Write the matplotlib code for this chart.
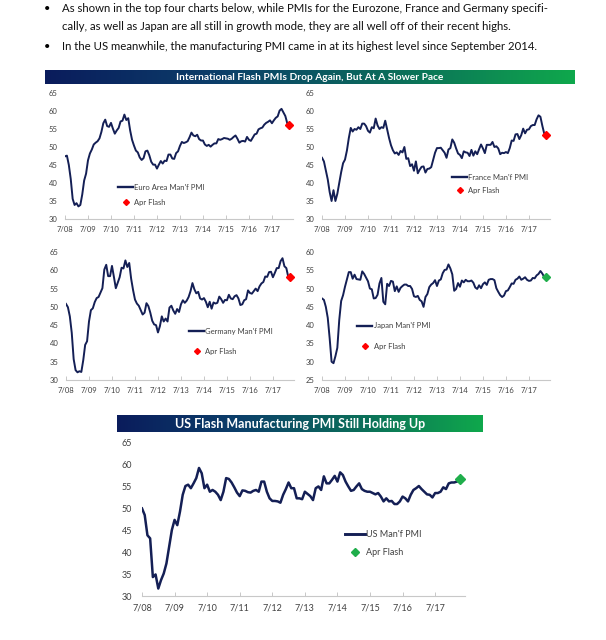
import numpy as np
import matplotlib.pyplot as plt
from matplotlib.lines import Line2D
from matplotlib.colors import LinearSegmentedColormap

plt.rcParams['font.family'] = ['Lato', 'DejaVu Sans']

W, H = 606, 640
NAVY = "#141f55"
RED = "#ff0000"
GREEN = "#1fae4b"
TICK_GREY = "#404040"

# x axis: months since Jul 2008 (monthly data Jul 2008 - Mar 2018, flash = Apr 2018)
tick_months = [0, 12, 24, 36, 48, 60, 72, 84, 96, 108]
tick_labels = ["7/08", "7/09", "7/10", "7/11", "7/12", "7/13", "7/14", "7/15", "7/16", "7/17"]
flash_month = 117

euro_pmi = [
    47.4, 47.6, 45.0, 41.1, 35.6, 33.9,
    34.4, 33.5, 33.9, 36.8, 40.7, 42.6, 46.3, 48.2, 49.3, 50.7, 51.2, 51.6,
    52.4, 54.2, 56.6, 57.6, 55.8, 55.6, 56.7, 55.1, 53.7, 54.6, 55.3, 57.1,
    57.3, 59.0, 57.5, 58.0, 54.6, 52.0, 50.4, 49.0, 48.5, 47.1, 46.4, 46.9,
    48.8, 49.0, 47.7, 45.9, 45.1, 45.1, 44.0, 45.1, 46.1, 45.4, 46.2, 46.1,
    47.9, 47.9, 46.8, 46.7, 48.3, 48.8, 50.3, 51.4, 51.1, 51.3, 51.6, 52.7,
    54.0, 53.2, 53.0, 53.4, 52.2, 51.8, 51.8, 50.7, 50.3, 50.6, 50.1, 50.6,
    51.0, 51.0, 52.2, 52.0, 52.2, 52.5, 52.4, 52.3, 52.0, 52.3, 52.8, 53.2,
    52.3, 51.2, 51.6, 51.7, 51.5, 52.8, 52.0, 51.7, 52.6, 53.5, 53.7, 54.9,
    55.2, 55.4, 56.2, 56.7, 57.0, 57.4, 56.6, 57.4, 58.1, 58.5, 60.1, 60.6,
    59.6, 58.6, 56.6,
]
euro_flash = 56.0

france_pmi = [
    47.0, 46.0, 43.5, 41.0, 37.5, 35.0,
    38.0, 35.0, 37.0, 40.0, 43.0, 45.5, 46.5, 49.0, 52.5, 55.3, 54.3, 55.0,
    54.8, 55.5, 55.0, 56.5, 56.5, 55.8, 54.5, 54.0, 55.5, 55.2, 57.9, 56.0,
    55.0, 55.5, 55.3, 57.3, 54.9, 52.5, 50.5, 49.1, 48.2, 48.5, 47.8, 48.9,
    48.5, 50.0, 46.7, 46.9, 44.7, 45.2, 43.4, 46.0, 42.7, 43.7, 44.5, 44.6,
    42.9, 43.9, 44.0, 44.4, 46.4, 48.4, 49.7, 49.7, 49.8, 49.1, 48.4, 47.0,
    49.3, 49.7, 52.1, 51.2, 49.6, 48.2, 47.8, 46.9, 48.8, 48.5, 48.4, 47.5,
    49.2, 47.6, 48.8, 48.0, 49.4, 50.7, 49.6, 48.3, 50.6, 50.6, 50.6, 51.4,
    50.0, 50.2, 49.6, 48.0, 48.4, 48.3, 48.6, 48.3, 49.7, 51.8, 51.7, 53.5,
    53.6, 52.2, 53.3, 55.1, 53.8, 54.8, 54.9, 55.8, 56.1, 56.1, 57.7, 58.8,
    58.4, 55.9, 53.7,
]
france_flash = 53.4

germany_pmi = [
    50.8, 49.9, 47.4, 42.9, 35.7, 32.7,
    32.1, 32.4, 32.2, 35.4, 39.6, 40.6, 46.0, 49.1, 49.6, 51.3, 52.4, 52.7,
    53.9, 55.1, 60.2, 61.5, 58.4, 58.4, 61.2, 58.2, 55.1, 56.6, 58.1, 60.7,
    60.5, 62.7, 60.9, 62.0, 57.7, 54.6, 52.0, 50.9, 50.3, 49.1, 47.9, 48.4,
    51.0, 50.2, 48.4, 46.2, 45.2, 45.0, 43.0, 44.7, 47.4, 46.0, 46.8, 46.0,
    49.8, 50.3, 49.0, 48.1, 49.4, 48.6, 50.7, 51.8, 51.1, 51.7, 52.7, 54.3,
    56.5, 54.8, 53.7, 54.1, 52.3, 52.0, 52.4, 51.4, 49.9, 51.4, 49.5, 51.2,
    50.9, 51.1, 52.8, 52.1, 51.1, 51.9, 51.8, 53.3, 52.3, 52.1, 52.9, 53.2,
    52.3, 50.5, 50.7, 51.8, 52.1, 54.5, 53.8, 53.6, 54.3, 55.0, 54.3, 55.6,
    56.4, 56.8, 58.3, 58.2, 59.5, 59.6, 58.1, 59.3, 60.6, 60.6, 62.5, 63.3,
    61.1, 60.6, 58.2,
]
germany_flash = 58.1

japan_pmi = [
    47.3, 46.9, 45.0, 42.0, 36.4, 30.0,
    29.6, 31.5, 33.8, 41.4, 46.6, 48.2, 50.5, 52.5, 54.5, 54.5, 52.7, 53.8,
    52.6, 52.5, 52.4, 54.7, 54.0, 53.0, 52.0, 50.0, 49.8, 47.3, 47.4, 48.3,
    51.4, 52.9, 46.4, 45.7, 51.3, 50.7, 52.1, 51.9, 49.3, 50.6, 49.1, 50.2,
    50.7, 51.1, 51.1, 50.7, 50.7, 49.9, 47.9, 47.7, 48.0, 46.9, 46.5, 45.0,
    47.7, 48.5, 50.4, 51.1, 51.5, 52.3, 50.7, 52.2, 52.5, 54.2, 55.1, 55.2,
    56.6, 55.5, 53.9, 49.4, 49.9, 51.5, 50.5, 52.2, 51.7, 52.4, 52.0, 52.0,
    52.2, 51.6, 50.3, 49.9, 50.9, 50.1, 51.2, 51.7, 51.0, 52.4, 52.6, 52.6,
    52.3, 50.1, 49.1, 48.2, 47.7, 48.1, 49.3, 49.5, 50.4, 51.4, 51.3, 52.4,
    52.7, 53.3, 52.4, 52.7, 53.1, 52.4, 52.1, 52.2, 52.9, 52.8, 53.6, 54.0,
    54.8, 54.1, 53.1,
]
japan_flash = 53.3

us_pmi = [
    49.9, 48.4, 43.8, 43.1, 34.3, 34.9,
    31.7, 33.6, 35.1, 37.4, 41.2, 45.0, 47.3, 46.1, 49.2, 53.0, 55.0, 55.3,
    54.5, 55.6, 56.8, 59.1, 57.9, 54.5, 55.3, 53.7, 54.1, 53.7, 53.0, 51.8,
    53.7, 56.8, 56.6, 55.8, 54.7, 53.5, 52.7, 54.0, 53.9, 53.6, 53.5, 53.9,
    54.1, 53.7, 56.0, 56.0, 53.7, 52.2, 51.6, 51.6, 51.5, 51.2, 53.0, 54.3,
    55.8, 54.5, 54.5, 52.2, 52.2, 52.0, 53.7, 53.2, 52.7, 51.8, 54.5, 54.9,
    54.1, 57.2, 55.6, 55.6, 56.4, 57.3, 56.0, 58.1, 57.5, 56.0, 54.9, 53.9,
    54.1, 54.9, 55.6, 54.3, 53.9, 53.7, 53.7, 53.4, 53.1, 53.4, 52.6, 51.5,
    52.2, 51.5, 51.6, 50.9, 50.9, 51.5, 52.6, 52.2, 51.5, 53.0, 54.1, 54.5,
    55.0, 54.3, 53.7, 53.1, 53.0, 52.4, 53.4, 53.4, 53.7, 54.7, 54.3, 55.6,
    55.8, 55.8, 56.0,
]
us_flash = 56.5

bullet_lines = [
    "As shown in the top four charts below, while PMIs for the Eurozone, France and Germany specifi-",
    "cally, as well as Japan are all still in growth mode, they are all well off of their recent highs.",
    "In the US meanwhile, the manufacturing PMI came in at its highest level since September 2014.",
]


def px_axes(fig, x0, y0, x1, y1):
    return fig.add_axes([x0 / W, 1 - y1 / H, (x1 - x0) / W, (y1 - y0) / H])


def banner(fig, x0, y0, x1, y1, text, fs):
    ax = px_axes(fig, x0, y0, x1, y1)
    cmap = LinearSegmentedColormap.from_list(
        "bann", ["#0a1c5c", "#0c3f6a", "#0b6e5a", "#0fa84c"])
    ax.imshow(np.linspace(0, 1, 256)[None, :], aspect="auto", cmap=cmap,
              extent=(0, 1, 0, 1))
    ax.text(0.5, 0.5, text, color="white", fontsize=fs, fontweight="bold",
            ha="center", va="center", transform=ax.transAxes)
    ax.set_axis_off()


def panel(ax, values, flash, flash_color, legend_color, label, ylim,
          fs, lw, ms, anchor, labelspacing, handlelength, ypad, xpad):
    months = np.arange(len(values))
    ax.plot(months, values, color=NAVY, lw=lw, solid_joinstyle="round")
    ax.plot([flash_month], [flash], ls="none", marker="D", ms=ms,
            color=flash_color)
    ax.set_xlim(0, 119)
    ax.set_ylim(*ylim)
    ax.set_yticks(range(ylim[0], ylim[1] + 1, 5))
    ax.set_xticks(tick_months)
    ax.set_xticklabels(tick_labels)
    for s in ["top", "right", "left"]:
        ax.spines[s].set_visible(False)
    ax.spines["bottom"].set_color("#c8c8c8")
    ax.spines["bottom"].set_linewidth(0.8)
    ax.tick_params(axis="y", length=0, labelsize=fs, labelcolor=TICK_GREY, pad=ypad)
    ax.tick_params(axis="x", direction="in", length=3, width=0.7, color="#c8c8c8",
                   labelsize=fs, labelcolor=TICK_GREY, pad=xpad)
    handles = [
        Line2D([], [], color=NAVY, lw=lw + 0.3),
        Line2D([], [], ls="none", marker="D", ms=ms * 0.75, color=legend_color),
    ]
    leg = ax.legend(handles, [label, "Apr Flash"], loc="upper left",
                    bbox_to_anchor=anchor, frameon=False, fontsize=fs,
                    borderpad=0, borderaxespad=0, handletextpad=0.15,
                    handlelength=handlelength, labelspacing=labelspacing)
    for t in leg.get_texts():
        t.set_color(TICK_GREY)


fig = plt.figure(figsize=(W / 100, H / 100), dpi=100)

# bullet text
for y, txt, bullet in [(9, bullet_lines[0], True), (26, bullet_lines[1], False),
                       (46, bullet_lines[2], True)]:
    if bullet:
        fig.text(47 / W, 1 - y / H, "\u2022", fontsize=8, ha="center", va="center")
    fig.text(62 / W, 1 - y / H, txt, fontsize=8.2, ha="left", va="center",
             color="#111111")

banner(fig, 45, 70, 575, 84, "International Flash PMIs Drop Again, But At A Slower Pace", 7.3)
banner(fig, 117, 415, 483, 432, "US Flash Manufacturing PMI Still Holding Up", 9)

small = dict(fs=5.5, lw=1.4, ms=4, handlelength=2.0, ypad=5.5, xpad=5)

ax1 = px_axes(fig, 65, 93, 293, 219)
panel(ax1, euro_pmi, euro_flash, RED, RED, "Euro Area Man'f PMI", (30, 65),
      anchor=(0.232, 0.28), labelspacing=1.1, **small)

ax2 = px_axes(fig, 322, 93, 550, 219)
panel(ax2, france_pmi, france_flash, RED, RED, "France Man'f PMI", (30, 65),
      anchor=(0.57, 0.36), labelspacing=0.85, **small)

ax3 = px_axes(fig, 66, 252, 294, 380)
panel(ax3, germany_pmi, germany_flash, RED, RED, "Germany Man'f PMI", (30, 65),
      anchor=(0.539, 0.41), labelspacing=1.75, **small)

ax4 = px_axes(fig, 322, 252, 550, 380)
panel(ax4, japan_pmi, japan_flash, GREEN, RED, "Japan Man'f PMI", (25, 60),
      anchor=(0.154, 0.45), labelspacing=1.75, **small)

ax5 = px_axes(fig, 142, 442, 465, 596)
panel(ax5, us_pmi, us_flash, GREEN, GREEN, "US Man'f PMI", (30, 65),
      fs=6.5, lw=1.8, ms=5, anchor=(0.628, 0.43), labelspacing=1.0,
      handlelength=2.2, ypad=7, xpad=5.4)

fig.savefig("out.png", dpi=100)
